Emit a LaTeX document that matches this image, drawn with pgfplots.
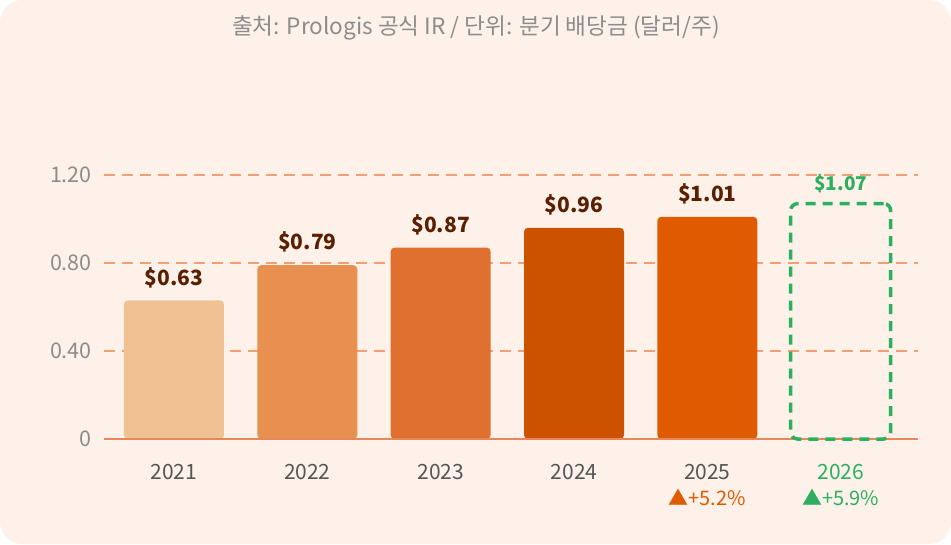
\documentclass[border=0pt]{standalone}
\usepackage{fontspec}
\setmainfont{Noto Sans CJK KR}
\usepackage{pgfplots}
\pgfplotsset{compat=1.18}
\definecolor{bg}{HTML}{FDF1E9}
\definecolor{cA}{HTML}{F0C192}
\definecolor{cB}{HTML}{E8904F}
\definecolor{cC}{HTML}{E07030}
\definecolor{cD}{HTML}{CD5200}
\definecolor{cE}{HTML}{E05A00}
\definecolor{cG}{HTML}{2BB05F}
\definecolor{gridc}{HTML}{F2A070}
\definecolor{zero}{HTML}{E8875A}
\definecolor{tickc}{HTML}{8C8C8C}
\definecolor{yearc}{HTML}{555555}
\definecolor{valc}{HTML}{5A1E00}
\begin{document}
\begin{tikzpicture}
\fill[white] (-104pt,-105pt) rectangle (847pt,439pt);
\fill[bg, rounded corners=22pt] (-104pt,-105pt) rectangle (847pt,439pt);
\node[text=tickc, font=\fontsize{22.6}{26}\selectfont] at (372pt,411pt) {출처: Prologis 공식 IR / 단위: 분기 배당금 (달러/주)};
\begin{axis}[at={(0pt,0pt)}, anchor=south west, scale only axis,
  width=814pt, height=264pt,
  xmin=-0.525, xmax=5.58, ymin=0, ymax=1.2,
  clip=false,
  axis line style={draw=none}, tick style={draw=none},
  ytick={0,0.4,0.8,1.2}, yticklabels={0,0.40,0.80,1.20},
  ymajorgrids, xmajorgrids=false, grid style={draw=gridc, line width=2pt, dash pattern=on 11pt off 7pt},
  xtick={0,1,2,3,4,5},
  xticklabels={2021,2022,2023,2024,2025,{\color{cG}2026}},
  xticklabel style={anchor=center, yshift=-29pt, text=yearc, font=\fontsize{21}{24}\selectfont},
  yticklabel style={anchor=east, inner sep=0pt, xshift=-12pt, text=tickc, font=\fontsize{21.5}{24}\selectfont},
  /pgf/number format/assume math mode=true,
  ybar, bar width=100pt,
  nodes near coords={\$\pgfmathprintnumber[fixed,precision=2,fixed zerofill]{\pgfplotspointmeta}},
  every node near coord/.append style={text=valc, font=\fontsize{21}{24}\selectfont\bfseries, anchor=center, yshift=23pt},
]
\addplot[bar shift=0pt, fill=cA, draw=none, rounded corners=4pt] coordinates {(0,0.63)};
\addplot[bar shift=0pt, fill=cB, draw=none, rounded corners=4pt] coordinates {(1,0.79)};
\addplot[bar shift=0pt, fill=cC, draw=none, rounded corners=4pt] coordinates {(2,0.87)};
\addplot[bar shift=0pt, fill=cD, draw=none, rounded corners=4pt] coordinates {(3,0.96)};
\addplot[bar shift=0pt, fill=cE, draw=none, rounded corners=4pt] coordinates {(4,1.01)};
\draw[zero, line width=2.5pt] (axis cs:-0.525,0) -- (axis cs:5.58,0);
\addplot[bar shift=0pt, fill=none, draw=cG, line width=3.5pt, dash pattern=on 10pt off 7pt, rounded corners=7pt,
  every node near coord/.append style={text=cG, yshift=-3pt, font=\fontsize{19}{22}\selectfont\bfseries}] coordinates {(5,1.07)};
\node[text=cE, font=\fontsize{20}{22}\selectfont] at (axis cs:4,0) [yshift=-58pt] {▲+5.2\%};
\node[text=cG, font=\fontsize{20}{22}\selectfont] at (axis cs:5,0) [yshift=-58pt] {▲+5.9\%};
\end{axis}
\end{tikzpicture}
\end{document}
